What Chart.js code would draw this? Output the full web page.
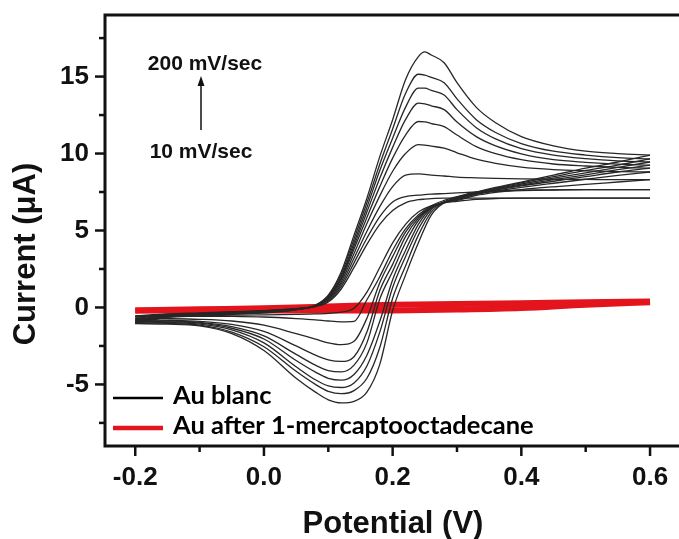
<!DOCTYPE html>
<html>
<head>
<meta charset="utf-8">
<script src="https://cdn.jsdelivr.net/npm/chart.js@4.4.1/dist/chart.umd.min.js"></script>
<style>
  html, body { margin: 0; padding: 0; background: #fff; }
  canvas { display: block; }
</style>
</head>
<body>
<canvas id="cv" width="679" height="539"></canvas>
<script>
// potentials (V) of the sampled points, forward and reverse sweep
const potentialFwd = [-0.2, -0.15, -0.1, -0.05, 0.0, 0.05, 0.08, 0.1, 0.12, 0.14, 0.16, 0.18, 0.2,
                      0.22, 0.24, 0.25, 0.26, 0.28, 0.3, 0.33, 0.36, 0.4, 0.45, 0.5, 0.55, 0.6];
const potentialRev = [0.6, 0.55, 0.5, 0.45, 0.4, 0.36, 0.33, 0.3, 0.28, 0.26, 0.24, 0.22, 0.2,
                      0.18, 0.16, 0.14, 0.12, 0.1, 0.08, 0.05, 0.0, -0.05, -0.1, -0.15, -0.2];

// Au blanc, current (µA), fastest scan (200 mV/sec) first
const blankFwd = [
  [-1.05, -0.65, -0.55, -0.45, -0.35, -0.15, 0.15, 0.8, 2.3, 4.7, 7.1, 9.8, 12.2, 14.8, 16.3, 16.6, 16.4, 15.9, 14.6, 13.0, 12.0, 11.1, 10.5, 10.15, 10.0, 9.9],
  [-1.0, -0.62, -0.52, -0.43, -0.33, -0.14, 0.13, 0.75, 2.15, 4.45, 6.8, 9.3, 11.6, 13.9, 15.15, 15.1, 14.95, 14.6, 13.55, 12.2, 11.37, 10.65, 10.15, 9.9, 9.73, 9.65],
  [-0.95, -0.6, -0.5, -0.41, -0.31, -0.13, 0.12, 0.7, 2.0, 4.2, 6.5, 8.9, 11.0, 13.0, 14.25, 14.25, 14.1, 13.8, 12.85, 11.68, 10.95, 10.32, 9.9, 9.67, 9.52, 9.45],
  [-0.9, -0.57, -0.47, -0.39, -0.29, -0.12, 0.11, 0.65, 1.9, 4.0, 6.2, 8.4, 10.4, 12.2, 13.28, 13.22, 13.1, 12.85, 12.05, 11.1, 10.5, 9.98, 9.6, 9.43, 9.31, 9.25],
  [-0.85, -0.54, -0.45, -0.37, -0.27, -0.11, 0.1, 0.6, 1.8, 3.8, 5.85, 7.85, 9.7, 11.2, 12.08, 12.05, 11.95, 11.75, 11.2, 10.45, 9.99, 9.6, 9.32, 9.19, 9.1, 9.05],
  [-0.8, -0.51, -0.43, -0.35, -0.25, -0.1, 0.09, 0.55, 1.65, 3.5, 5.45, 7.25, 8.85, 10.0, 10.58, 10.55, 10.48, 10.35, 10.05, 9.63, 9.36, 9.12, 8.96, 8.88, 8.83, 8.8],
  [-0.72, -0.48, -0.41, -0.33, -0.23, -0.09, 0.08, 0.5, 1.5, 3.2, 4.95, 6.55, 7.85, 8.6, 8.68, 8.64, 8.6, 8.54, 8.47, 8.42, 8.38, 8.35, 8.33, 8.32, 8.3, 8.3],
  [-0.62, -0.45, -0.38, -0.3, -0.21, -0.08, 0.07, 0.42, 1.35, 2.9, 4.5, 5.9, 6.85, 7.2, 7.3, 7.33, 7.36, 7.4, 7.44, 7.5, 7.55, 7.6, 7.63, 7.65, 7.65, 7.65],
  [-0.55, -0.42, -0.35, -0.28, -0.2, -0.07, 0.06, 0.36, 1.2, 2.6, 4.1, 5.4, 6.3, 6.8, 7.0, 7.04, 7.07, 7.1, 7.1, 7.1, 7.1, 7.1, 7.1, 7.1, 7.1, 7.1]
];
const blankRev = [
  [9.9, 9.45, 9.05, 8.6, 8.15, 7.8, 7.5, 7.15, 6.8, 6.0, 4.2, 2.1, -0.2, -3.7, -5.5, -6.1, -6.2, -6.0, -5.5, -4.6, -2.8, -1.7, -1.2, -1.08, -1.05],
  [9.65, 9.25, 8.9, 8.5, 8.1, 7.75, 7.47, 7.12, 6.82, 6.2, 4.7, 2.7, 0.6, -2.6, -4.6, -5.4, -5.6, -5.45, -5.0, -4.15, -2.55, -1.6, -1.15, -1.03, -1.0],
  [9.45, 9.1, 8.75, 8.4, 8.02, 7.7, 7.44, 7.1, 6.85, 6.35, 5.1, 3.3, 1.3, -1.6, -3.8, -4.9, -5.2, -5.1, -4.7, -3.85, -2.3, -1.45, -1.08, -0.98, -0.95],
  [9.25, 8.95, 8.62, 8.3, 7.95, 7.66, 7.41, 7.08, 6.85, 6.45, 5.4, 3.7, 1.8, -0.9, -3.1, -4.35, -4.72, -4.6, -4.2, -3.45, -2.05, -1.35, -1.02, -0.93, -0.9],
  [9.05, 8.8, 8.5, 8.2, 7.9, 7.62, 7.38, 7.05, 6.85, 6.5, 5.65, 4.2, 2.35, 0.55, -2.3, -3.75, -4.19, -4.1, -3.75, -3.05, -1.85, -1.25, -0.97, -0.88, -0.85],
  [8.8, 8.58, 8.33, 8.07, 7.8, 7.56, 7.34, 7.0, 6.82, 6.5, 5.8, 4.6, 2.8, 1.1, -1.6, -3.2, -3.5, -3.4, -3.1, -2.5, -1.55, -1.1, -0.9, -0.83, -0.8],
  [8.3, 8.15, 8.0, 7.84, 7.66, 7.48, 7.28, 6.95, 6.8, 6.5, 5.9, 4.9, 3.3, 1.6, -0.7, -2.2, -2.42, -2.3, -2.05, -1.7, -1.15, -0.88, -0.77, -0.73, -0.72],
  [7.65, 7.65, 7.65, 7.64, 7.62, 7.58, 7.5, 7.2, 6.95, 6.6, 6.0, 5.1, 3.7, 2.0, 0.5, -0.9, -0.93, -0.88, -0.8, -0.72, -0.62, -0.58, -0.57, -0.58, -0.62],
  [7.1, 7.1, 7.1, 7.1, 7.1, 7.08, 7.02, 6.9, 6.8, 6.6, 6.2, 5.4, 4.2, 2.6, 1.0, -0.05, -0.3, -0.38, -0.42, -0.45, -0.48, -0.5, -0.52, -0.53, -0.55]
];

// Au after 1-mercaptooctadecane (the thick red band)
const thiolFwdV = [-0.2, -0.1, 0.0, 0.1, 0.2, 0.3, 0.4, 0.5, 0.6];
const thiolFwdI = [-0.2, -0.12, -0.05, 0.06, 0.18, 0.23, 0.28, 0.34, 0.38];
const thiolRevV = [0.6, 0.5, 0.4, 0.3, 0.2, 0.1, 0.0, -0.1, -0.2];
const thiolRevI = [0.34, 0.18, -0.04, -0.14, -0.19, -0.2, -0.2, -0.2, -0.2];

const xTicks = [-0.2, 0.0, 0.2, 0.4, 0.6];
const xMinor = [-0.1, 0.1, 0.3, 0.5];
const yTicks = [-5, 0, 5, 10, 15];
const yMinor = [-7.5, -2.5, 2.5, 7.5, 12.5, 17.5];

const legendLabels = ['Au blanc', 'Au after 1-mercaptooctadecane'];

const BLACK = '#272727';
const RED = '#e3141c';
const TICK_FONT = { family: 'Liberation Sans, Arial, sans-serif', size: 26, weight: 'bold' };

function curve(xs, ys, color, width) {
    return {
        data: xs.map((x, i) => ({ x: x, y: ys[i] })),
        showLine: true,
        borderColor: color,
        borderWidth: width,
        pointRadius: 0,
        fill: false,
        cubicInterpolationMode: 'monotone'
    };
}

const datasets = [];
blankFwd.forEach(row => datasets.push(curve(potentialFwd, row, BLACK, 1.3)));
blankRev.forEach(row => datasets.push(curve(potentialRev, row, BLACK, 1.3)));
datasets.push(curve(thiolFwdV, thiolFwdI, RED, 6));
datasets.push(curve(thiolRevV, thiolRevI, RED, 6));

// frame, ticks, legend, labels
const decor = {
    id: 'decor',
    beforeDraw(chart) {
        const ctx = chart.ctx;
        ctx.save();
        ctx.fillStyle = '#fff';
        ctx.fillRect(0, 0, chart.width, chart.height);
        ctx.restore();
    },
    afterDraw(chart) {
        const { ctx, chartArea: a, scales } = chart;
        ctx.save();
        ctx.strokeStyle = '#111';
        ctx.lineWidth = 3;
        ctx.beginPath();
        ctx.moveTo(a.right + 3, a.top);
        ctx.lineTo(a.left, a.top);
        ctx.lineTo(a.left, a.bottom);
        ctx.lineTo(a.right + 3, a.bottom);
        ctx.stroke();

        ctx.lineWidth = 2.5;
        const tx = (v, len) => {
            const p = scales.x.getPixelForValue(v);
            ctx.beginPath(); ctx.moveTo(p, a.bottom); ctx.lineTo(p, a.bottom + len); ctx.stroke();
        };
        const ty = (v, len) => {
            const p = scales.y.getPixelForValue(v);
            ctx.beginPath(); ctx.moveTo(a.left, p); ctx.lineTo(a.left - len, p); ctx.stroke();
        };
        xTicks.forEach(v => tx(v, 10));
        xMinor.forEach(v => tx(v, 6));
        yTicks.forEach(v => ty(v, 10));
        yMinor.forEach(v => ty(v, 6));

        // scan-rate annotation
        ctx.fillStyle = '#111';
        ctx.font = 'bold 21px "Liberation Sans", Arial, sans-serif';
        ctx.textAlign = 'center';
        ctx.textBaseline = 'alphabetic';
        ctx.fillText('200 mV/sec', 205, 70);
        ctx.fillText('10 mV/sec', 201, 158);
        ctx.lineWidth = 1.5;
        ctx.beginPath(); ctx.moveTo(201, 130); ctx.lineTo(201, 84); ctx.stroke();
        ctx.beginPath(); ctx.moveTo(201, 76); ctx.lineTo(197.5, 86); ctx.lineTo(204.5, 86); ctx.closePath(); ctx.fill();

        // legend
        ctx.lineWidth = 2.5;
        ctx.strokeStyle = '#000';
        ctx.beginPath(); ctx.moveTo(113, 398); ctx.lineTo(163, 398); ctx.stroke();
        ctx.lineWidth = 4.5;
        ctx.strokeStyle = RED;
        ctx.beginPath(); ctx.moveTo(113, 428); ctx.lineTo(163, 428); ctx.stroke();
        ctx.font = 'bold 25.5px Lato, "Open Sans", sans-serif';
        ctx.textAlign = 'left';
        ctx.fillStyle = '#000';
        ctx.fillText(legendLabels[0], 173, 404);
        ctx.fillText(legendLabels[1], 173, 434);

        // axis titles
        ctx.font = 'bold 31px "Liberation Sans", Arial, sans-serif';
        ctx.textAlign = 'center';
        ctx.fillStyle = '#111';
        ctx.fillText('Potential (V)', 393, 533);
        ctx.translate(35, 254);
        ctx.rotate(-Math.PI / 2);
        ctx.fillText('Current (\u03bcA)', 0, 0);
        ctx.restore();
    }
};

new Chart(document.getElementById('cv'), {
    type: 'scatter',
    data: { datasets: datasets },
    options: {
        responsive: false,
        animation: false,
        layout: { padding: { top: 15, right: 0, bottom: 0, left: 0 } },
        plugins: { legend: { display: false }, tooltip: { enabled: false } },
        scales: {
            x: {
                type: 'linear',
                min: -0.247,
                max: 0.645,
                grid: { display: false, drawTicks: false },
                border: { display: false },
                ticks: {
                    font: TICK_FONT,
                    color: '#111',
                    padding: 16,
                    maxRotation: 0,
                    callback: v => v.toFixed(1)
                },
                afterBuildTicks: s => { s.ticks = xTicks.map(v => ({ value: v })); },
                afterFit: s => { s.height = 93; s.paddingLeft = 0; s.paddingRight = 0; }
            },
            y: {
                type: 'linear',
                min: -9,
                max: 19,
                grid: { display: false, drawTicks: false },
                border: { display: false },
                ticks: {
                    font: TICK_FONT,
                    color: '#111',
                    padding: 16,
                    callback: v => String(v)
                },
                afterBuildTicks: s => { s.ticks = yTicks.map(v => ({ value: v })); },
                afterFit: s => { s.width = 105; s.paddingTop = 0; s.paddingBottom = 0; }
            }
        }
    },
    plugins: [decor]
});
</script>
</body>
</html>
